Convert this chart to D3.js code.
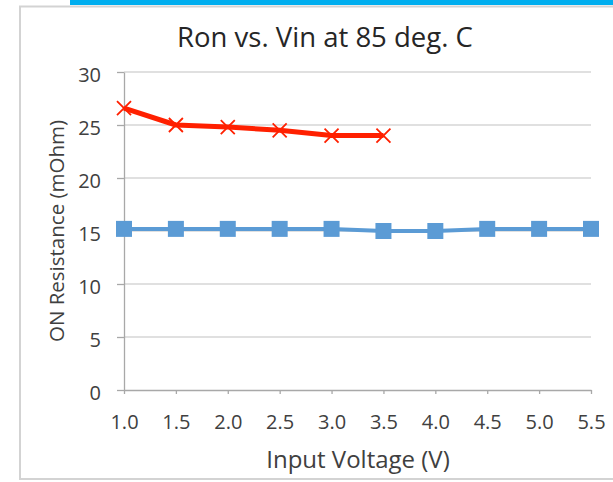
<!DOCTYPE html>
<html><head><meta charset="utf-8">
<script src="https://cdn.jsdelivr.net/npm/d3@7"></script>
<style>body{margin:0;background:#fff;}svg{display:block;font-family:"Open Sans",sans-serif;}</style>
</head><body>
<script>
const titleText = "Ron vs. Vin at 85 deg. C";
const xLabel = "Input Voltage (V)";
const yLabel = "ON Resistance (mOhm)";
const xTicks = [1.0,1.5,2.0,2.5,3.0,3.5,4.0,4.5,5.0,5.5];
const yTicks = [0,5,10,15,20,25,30];
const blueX = [1.0,1.5,2.0,2.5,3.0,3.5,4.0,4.5,5.0,5.5];
const blueY = [15.2,15.2,15.2,15.2,15.2,15.0,15.0,15.2,15.2,15.2];
const redX = [1.0,1.5,2.0,2.5,3.0,3.5];
const redY = [26.6,25.0,24.8,24.5,24.0,24.0];

const W=613,H=482;
const FONT='"Open Sans",sans-serif';
const svg=d3.select("body").append("svg").attr("width",W).attr("height",H);
// top blue bar
svg.append("rect").attr("x",70).attr("y",0).attr("width",W-70).attr("height",5).attr("fill","#00aeef");
// chart frame
svg.append("path").attr("d","M20,480 L20,6.5 L613,6.5").attr("fill","none").attr("stroke","#d3d3d3").attr("stroke-width",2);
svg.append("line").attr("x1",20).attr("x2",613).attr("y1",479).attr("y2",479).attr("stroke","#d3d3d3").attr("stroke-width",2);

const x=d3.scaleLinear().domain([1,5.5]).range([124,591]);
const y=d3.scaleLinear().domain([0,30]).range([390,72]);

// gridlines
svg.append("g").selectAll("line").data(yTicks.filter(d=>d>0)).join("line")
  .attr("x1",x(1)).attr("x2",x(5.5)).attr("y1",d=>y(d)).attr("y2",d=>y(d))
  .attr("stroke","#d6d6d6").attr("stroke-width",1.5);

// y axis
const ya=svg.append("g").attr("transform",`translate(${x(1)},0)`)
  .call(d3.axisLeft(y).tickValues(yTicks).tickSize(7).tickPadding(16).tickSizeOuter(0));
ya.select(".domain").attr("stroke","#a8a8a8").attr("stroke-width",1.3);
ya.selectAll(".tick line").attr("stroke","#a8a8a8").attr("stroke-width",1.3);
ya.selectAll("text").attr("font-size",20).attr("dy","0.48em").attr("fill","#404040").attr("font-family",FONT);

// x axis
const xa=svg.append("g").attr("transform",`translate(0,${y(0)})`)
  .call(d3.axisBottom(x).tickValues(xTicks).tickFormat(d3.format(".1f")).tickSize(4).tickPadding(21).tickSizeOuter(0));
xa.select(".domain").attr("stroke","#a8a8a8").attr("stroke-width",1.3);
xa.selectAll(".tick line").attr("stroke","#a8a8a8").attr("stroke-width",1.3);
xa.selectAll("text").attr("font-size",20).attr("fill","#404040").attr("font-family",FONT);

// title & labels
svg.append("text").attr("x",325).attr("y",47).attr("text-anchor","middle").attr("font-size",27.5).attr("fill","#262626").text(titleText);
svg.append("text").attr("x",358).attr("y",468).attr("text-anchor","middle").attr("font-size",24).attr("fill","#404040").text(xLabel);
svg.append("text").attr("transform","translate(64,231) rotate(-90)").attr("text-anchor","middle").attr("font-size",20.5).attr("fill","#404040").text(yLabel);

const line=d3.line();
// blue series
const bp=blueX.map((v,i)=>[x(v),y(blueY[i])]);
svg.append("path").attr("d",line(bp)).attr("fill","none").attr("stroke","#5b9bd5").attr("stroke-width",4);
svg.append("g").selectAll("rect").data(bp).join("rect")
  .attr("x",d=>d[0]-8).attr("y",d=>d[1]-8).attr("width",16).attr("height",16).attr("fill","#5b9bd5");
// red series
const rp=redX.map((v,i)=>[x(v),y(redY[i])]);
svg.append("path").attr("d",line(rp)).attr("fill","none").attr("stroke","#ff2000").attr("stroke-width",5).attr("stroke-linejoin","round");
svg.append("g").selectAll("path.m").data(rp).join("path").attr("class","m")
  .attr("d",d=>`M${d[0]-7},${d[1]-7}L${d[0]+7},${d[1]+7}M${d[0]-7},${d[1]+7}L${d[0]+7},${d[1]-7}`)
  .attr("stroke","#ff2000").attr("stroke-width",1.8).attr("fill","none");
</script>
</body></html>
